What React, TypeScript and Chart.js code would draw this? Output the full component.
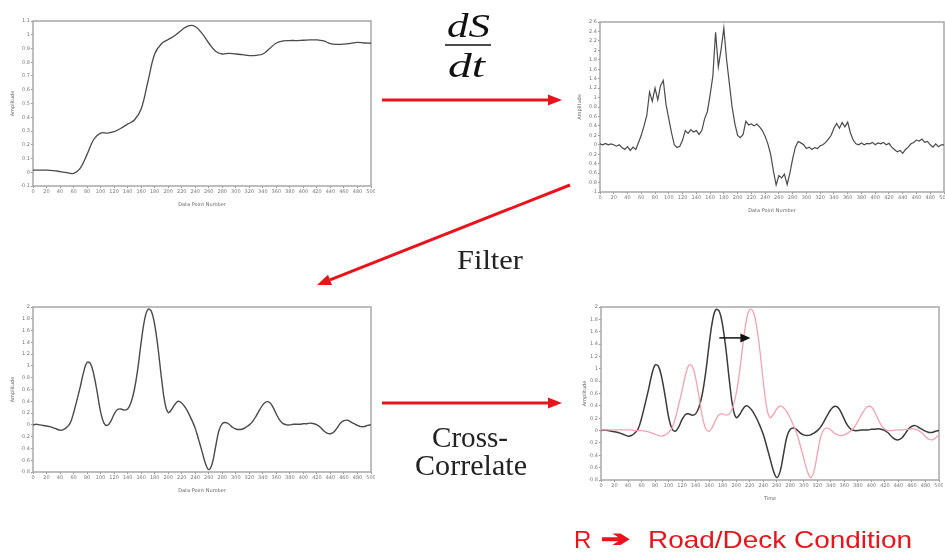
import React, { useEffect, useRef } from "react";
import Chart from "chart.js/auto";

// ---- data ----
const X_TICK_STEP = 20;
const X_MAX = 500;

// raw signal S (sampled every 10 data points)
const SIGNAL_STEP = 10;
const SIGNAL = [
  0.015, 0.015, 0.015, 0.012, 0.005, -0.003, -0.008, 0.03, 0.13, 0.24,
  0.285, 0.285, 0.295, 0.32, 0.35, 0.38, 0.46, 0.66, 0.86, 0.935,
  0.965, 0.995, 1.035, 1.065, 1.06, 1.01, 0.94, 0.88, 0.86, 0.865,
  0.86, 0.855, 0.848, 0.85, 0.86, 0.9, 0.94, 0.955, 0.958, 0.958,
  0.96, 0.962, 0.963, 0.955, 0.935, 0.93, 0.932, 0.938, 0.945, 0.94,
  0.938,
];

// derivative dS/dt (sampled every 4 data points)
const DERIV_STEP = 4;
const DERIV = [
  0.02, 0.0, 0.03, 0.0, 0.02, 0.0, -0.03, 0.0, -0.06, -0.1,
  -0.04, -0.12, -0.05, -0.1, 0.05, 0.2, 0.4, 0.62, 1.12, 0.92,
  1.2, 0.95, 1.25, 1.36, 0.85, 0.55, 0.25, 0.0, -0.06, -0.03,
  0.1, 0.3, 0.24, 0.32, 0.27, 0.3, 0.22, 0.3, 0.55, 0.7,
  1.05, 1.45, 2.38, 1.65, 2.02, 2.47, 1.8, 1.3, 0.8, 0.45,
  0.2, 0.15, 0.22, 0.5, 0.42, 0.44, 0.4, 0.44, 0.38, 0.3,
  0.18, 0.02, -0.2, -0.55, -0.85, -0.65, -0.7, -0.62, -0.84, -0.6,
  -0.3, -0.05, 0.07, 0.04, 0.0, -0.08, -0.05, -0.1, -0.06, -0.08,
  -0.02, 0.0, 0.05, 0.12, 0.2, 0.35, 0.45, 0.35, 0.47, 0.38,
  0.48, 0.25, 0.1, 0.02, 0.0, 0.04, 0.0, 0.03, 0.02, 0.05,
  0.0, 0.04, 0.02, 0.05, 0.0, 0.03, -0.05, -0.1, -0.15, -0.12,
  -0.18, -0.1, -0.05, 0.02, 0.05, 0.1, 0.08, 0.12, 0.05, 0.07,
  0.0, -0.05, 0.02, -0.04, 0.0, 0.0,
];

// filtered signal (sampled every 5 data points)
const FILT_STEP = 5;
const FILTERED = [
  0.0, 0.01, 0.0, -0.01, -0.02, -0.03, -0.05, -0.07, -0.09, -0.08,
  -0.04, 0.03, 0.2, 0.42, 0.65, 0.9, 1.06, 1.04, 0.85, 0.55,
  0.22, 0.03, -0.01, 0.06, 0.18, 0.26, 0.27, 0.25, 0.27, 0.38,
  0.6, 0.95, 1.4, 1.78, 1.96, 1.93, 1.7, 1.3, 0.8, 0.38,
  0.21, 0.26, 0.35, 0.4, 0.37, 0.3, 0.2, 0.08, -0.06, -0.25,
  -0.45, -0.65, -0.76, -0.66, -0.38, -0.1, 0.02, 0.04, 0.01, -0.04,
  -0.07, -0.08, -0.07, -0.04, 0.0, 0.06, 0.15, 0.25, 0.34, 0.39,
  0.38, 0.3, 0.18, 0.08, 0.02, 0.0, 0.0, 0.01, 0.01, 0.01,
  0.02, 0.02, 0.03, 0.02, 0.0, -0.04, -0.1, -0.14, -0.15, -0.12,
  -0.05, 0.03, 0.07, 0.08, 0.05, 0.02, -0.01, -0.03, -0.03, -0.01,
  0.0,
];

// second (delayed) filtered signal, pink curve in the last panel
const DELAYED = [
  0.01, 0.01, 0.01, 0.01, 0.01, 0.01, 0.01, 0.01, 0.01, 0.01,
  0.0, 0.0, 0.0, -0.01, -0.02, -0.04, -0.06, -0.08, -0.09, -0.07,
  -0.03, 0.04, 0.2, 0.42, 0.65, 0.9, 1.06, 1.04, 0.85, 0.55,
  0.22, 0.03, -0.01, 0.06, 0.18, 0.26, 0.27, 0.25, 0.27, 0.38,
  0.6, 0.95, 1.4, 1.78, 1.96, 1.93, 1.7, 1.3, 0.8, 0.38,
  0.21, 0.26, 0.35, 0.4, 0.37, 0.3, 0.2, 0.08, -0.06, -0.25,
  -0.45, -0.65, -0.76, -0.66, -0.38, -0.1, 0.02, 0.04, 0.01, -0.04,
  -0.07, -0.08, -0.07, -0.04, 0.0, 0.06, 0.15, 0.25, 0.34, 0.39,
  0.38, 0.3, 0.18, 0.08, 0.02, 0.0, 0.0, 0.01, 0.01, 0.01,
  0.02, 0.02, 0.03, 0.02, 0.0, -0.04, -0.1, -0.14, -0.15, -0.12,
  -0.07,
];

// shift arrow in the last panel (data coordinates)
const SHIFT_ARROW_X = [175, 221];
const SHIFT_ARROW_Y = 1.5;

const X_TITLE = "Data Point Number";
const X_TITLE_LAST = "Time";
const Y_TITLE = "Amplitude";

// ---- helpers ----
const toPoints = (vals: number[], step: number) =>
  vals.map((v, i) => ({ x: i * step, y: v }));

const fmt = (v: number | string) => {
  const n = Math.round(Number(v) * 10) / 10;
  return String(n);
};

const framePlugin = {
  id: "frame",
  beforeDatasetsDraw(chart: any) {
    const { ctx, chartArea: a } = chart;
    ctx.save();
    ctx.strokeStyle = "#a8a8a8";
    ctx.lineWidth = 1.5;
    ctx.strokeRect(a.left, a.top, a.right - a.left, a.bottom - a.top);
    ctx.restore();
  },
};

const shiftArrowPlugin = {
  id: "shiftArrow",
  afterDatasetsDraw(chart: any) {
    const { ctx, scales } = chart;
    const x1 = scales.x.getPixelForValue(SHIFT_ARROW_X[0]);
    const x2 = scales.x.getPixelForValue(SHIFT_ARROW_X[1]);
    const y = scales.y.getPixelForValue(SHIFT_ARROW_Y);
    ctx.save();
    ctx.strokeStyle = "#111";
    ctx.fillStyle = "#111";
    ctx.lineWidth = 1.5;
    ctx.beginPath();
    ctx.moveTo(x1, y);
    ctx.lineTo(x2 - 8, y);
    ctx.stroke();
    ctx.beginPath();
    ctx.moveTo(x2, y);
    ctx.lineTo(x2 - 10, y - 4.5);
    ctx.lineTo(x2 - 10, y + 4.5);
    ctx.closePath();
    ctx.fill();
    ctx.restore();
  },
};

type PanelOpts = {
  datasets: any[];
  ymin: number;
  ymax: number;
  ystep: number;
  xTitle: string;
  padTop: number;
  padRight: number;
  yWidth: number;
  xHeight: number;
  yTitlePad: number;
  extraPlugins?: any[];
};

const tickFont = { family: "DejaVu Sans", size: 5 };

function buildConfig(o: PanelOpts): any {
  return {
    type: "line",
    data: { datasets: o.datasets },
    options: {
      animation: false,
      responsive: false,
      devicePixelRatio: 1,
      layout: { padding: { top: o.padTop, right: o.padRight, left: 0, bottom: 0 } },
      plugins: { legend: { display: false }, tooltip: { enabled: false } },
      elements: { point: { radius: 0 } },
      scales: {
        x: {
          type: "linear",
          min: 0,
          max: X_MAX,
          ticks: {
            stepSize: X_TICK_STEP,
            autoSkip: false,
            maxRotation: 0,
            font: tickFont,
            color: "#777",
            padding: 1,
          },
          grid: { drawOnChartArea: false, drawTicks: true, tickLength: 2, color: "#999" },
          border: { display: false },
          title: {
            display: true,
            text: o.xTitle,
            font: tickFont,
            color: "#666",
            padding: { top: 1, bottom: 0 },
          },
          afterFit(s: any) {
            s.height = o.xHeight;
            s.paddingLeft = 0;
            s.paddingRight = 0;
          },
        },
        y: {
          min: o.ymin,
          max: o.ymax,
          ticks: {
            stepSize: o.ystep,
            autoSkip: false,
            font: tickFont,
            color: "#777",
            padding: 1,
            callback: (v: number) => fmt(v),
          },
          grid: { drawOnChartArea: false, drawTicks: true, tickLength: 2, color: "#999" },
          border: { display: false },
          title: {
            display: true,
            text: Y_TITLE,
            font: tickFont,
            color: "#666",
            padding: { top: o.yTitlePad, bottom: 0 },
          },
          afterFit(s: any) {
            s.width = o.yWidth;
            s.paddingTop = 0;
            s.paddingBottom = 0;
          },
        },
      },
    },
    plugins: [framePlugin, ...(o.extraPlugins || [])],
  };
}

const grayLine = (data: any[], tension: number, width = 1.3) => ({
  data,
  borderColor: "#4a4a4a",
  borderWidth: width,
  tension,
  pointRadius: 0,
  fill: false,
});

function Panel(props: { left: number; top: number; width: number; height: number; build: () => any }) {
  const ref = useRef<HTMLCanvasElement | null>(null);
  useEffect(() => {
    if (!ref.current) return;
    const chart = new Chart(ref.current, props.build());
    return () => chart.destroy();
  }, []);
  return (
    <canvas
      ref={ref}
      width={props.width}
      height={props.height}
      style={{
        position: "absolute",
        left: props.left,
        top: props.top,
        width: props.width,
        height: props.height,
      }}
    />
  );
}

const RED = "#e8141c";

function arrowHead(x1: number, y1: number, x2: number, y2: number, len: number, half: number) {
  const dx = x2 - x1;
  const dy = y2 - y1;
  const L = Math.hypot(dx, dy);
  const ux = dx / L;
  const uy = dy / L;
  const bx = x2 - ux * len;
  const by = y2 - uy * len;
  const nx = -uy;
  const ny = ux;
  return {
    points: `${x2},${y2} ${bx + nx * half},${by + ny * half} ${bx - nx * half},${by - ny * half}`,
    bx,
    by,
  };
}

function Arrow(p: { x1: number; y1: number; x2: number; y2: number }) {
  const h = arrowHead(p.x1, p.y1, p.x2, p.y2, 14, 5.5);
  return (
    <g>
      <line x1={p.x1} y1={p.y1} x2={h.bx} y2={h.by} stroke={RED} strokeWidth={3} />
      <polygon points={h.points} fill={RED} />
    </g>
  );
}

export default function App() {
  const serif = "'Liberation Serif', 'Times New Roman', serif";
  const sans = "'Liberation Sans', Arial, sans-serif";
  return (
    <div
      style={{
        position: "absolute",
        left: 0,
        top: 0,
        width: 945,
        height: 558,
        background: "#fff",
        overflow: "hidden",
      }}
    >
      <Panel
        left={5}
        top={8}
        width={370}
        height={200}
        build={() =>
          buildConfig({
            datasets: [grayLine(toPoints(SIGNAL, SIGNAL_STEP), 0.4)],
            ymin: -0.1,
            ymax: 1.1,
            ystep: 0.1,
            xTitle: X_TITLE,
            padTop: 13,
            padRight: 4,
            yWidth: 28,
            xHeight: 22,
            yTitlePad: 5,
          })
        }
      />
      <Panel
        left={572}
        top={8}
        width={373}
        height={206}
        build={() =>
          buildConfig({
            datasets: [grayLine(toPoints(DERIV, DERIV_STEP), 0, 1.2)],
            ymin: -1,
            ymax: 2.6,
            ystep: 0.2,
            xTitle: X_TITLE,
            padTop: 14,
            padRight: 1,
            yWidth: 28,
            xHeight: 22,
            yTitlePad: 5,
          })
        }
      />
      <Panel
        left={5}
        top={294}
        width={370}
        height={200}
        build={() =>
          buildConfig({
            datasets: [grayLine(toPoints(FILTERED, FILT_STEP), 0.4, 1.4)],
            ymin: -0.8,
            ymax: 2,
            ystep: 0.2,
            xTitle: X_TITLE,
            padTop: 13,
            padRight: 4,
            yWidth: 28,
            xHeight: 22,
            yTitlePad: 5,
          })
        }
      />
      <Panel
        left={573}
        top={294}
        width={370}
        height={208}
        build={() =>
          buildConfig({
            datasets: [
              {
                data: toPoints(DELAYED, FILT_STEP),
                borderColor: "#f2a3b0",
                borderWidth: 1.3,
                tension: 0.4,
                pointRadius: 0,
                fill: false,
              },
              {
                data: toPoints(FILTERED, FILT_STEP),
                borderColor: "#3a3a3a",
                borderWidth: 1.5,
                tension: 0.4,
                pointRadius: 0,
                fill: false,
              },
            ],
            ymin: -0.8,
            ymax: 2,
            ystep: 0.2,
            xTitle: X_TITLE_LAST,
            padTop: 13,
            padRight: 4,
            yWidth: 28,
            xHeight: 22,
            yTitlePad: 9,
            extraPlugins: [shiftArrowPlugin],
          })
        }
      />
      <svg
        width={945}
        height={558}
        style={{ position: "absolute", left: 0, top: 0, pointerEvents: "none" }}
      >
        <Arrow x1={382} y1={100} x2={562} y2={100} />
        <Arrow x1={570} y1={185} x2={317} y2={285} />
        <Arrow x1={382} y1={403} x2={562} y2={403} />

        <text x={447} y={37} fontFamily={serif} fontStyle="italic" fontSize={33} textLength={43} lengthAdjust="spacingAndGlyphs" fill="#111">
          dS
        </text>
        <line x1={445} y1={45} x2={491} y2={45} stroke="#111" strokeWidth={1.5} />
        <text x={448} y={77} fontFamily={serif} fontStyle="italic" fontSize={33} textLength={37} lengthAdjust="spacingAndGlyphs" fill="#111">
          dt
        </text>

        <text x={457} y={269} fontFamily={serif} fontSize={27} textLength={66} lengthAdjust="spacingAndGlyphs" fill="#222">
          Filter
        </text>
        <text x={432} y={447} fontFamily={serif} fontSize={29} textLength={76} lengthAdjust="spacingAndGlyphs" fill="#222">
          Cross-
        </text>
        <text x={415} y={475} fontFamily={serif} fontSize={29} textLength={112} lengthAdjust="spacingAndGlyphs" fill="#222">
          Correlate
        </text>

        <text x={574} y={548} fontFamily={sans} fontSize={24} fill={RED}>
          R
        </text>
        <text x={601} y={546} fontFamily="'DejaVu Sans', sans-serif" fontSize={22} fontWeight="bold" textLength={29} lengthAdjust="spacingAndGlyphs" fill={RED} stroke={RED} strokeWidth={1.2}>
          ➔
        </text>
        <text x={648} y={548} fontFamily={sans} fontSize={24} textLength={264} lengthAdjust="spacingAndGlyphs" fill={RED}>
          Road/Deck Condition
        </text>
      </svg>
    </div>
  );
}
